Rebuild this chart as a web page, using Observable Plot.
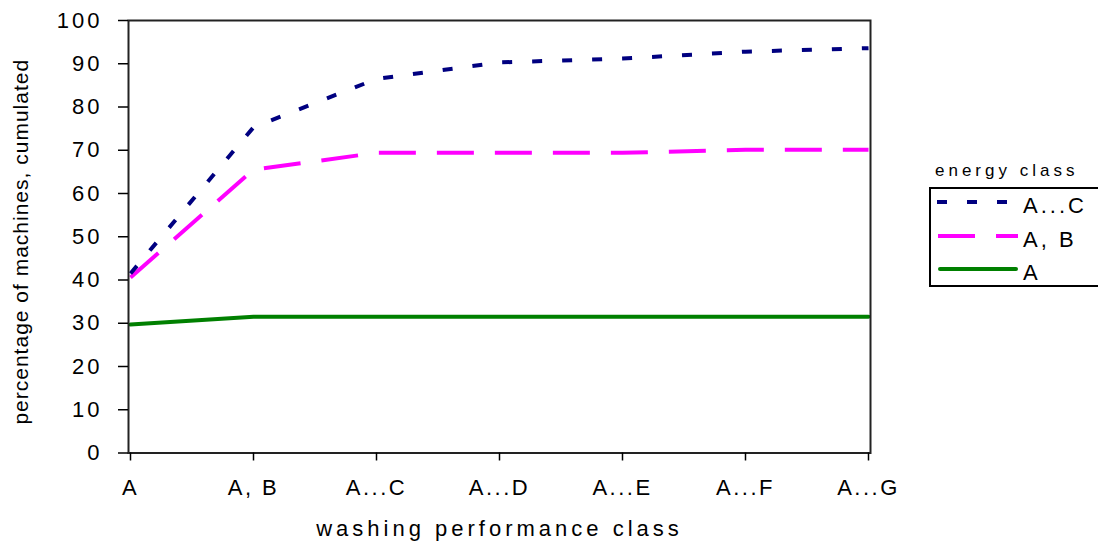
<!DOCTYPE html>
<html><head><meta charset="utf-8">
<script src="https://cdn.jsdelivr.net/npm/d3@7"></script>
<script src="https://cdn.jsdelivr.net/npm/@observablehq/plot@0.6"></script>
<style>
html,body{margin:0;padding:0;background:#fff;overflow:hidden}
#wrap{position:relative;width:1098px;height:543px;overflow:hidden}
#legend{position:absolute;left:900px;top:150px}
svg text{font-family:"Liberation Sans",Arial,sans-serif}
[aria-label="x-axis tick label"] text{letter-spacing:2.5px}
[aria-label="y-axis tick label"] text{letter-spacing:3px}
</style></head><body><div id="wrap"></div>
<script>
// ---- data ----
const categories = ["A", "A, B", "A...C", "A...D", "A...E", "A...F", "A...G"];
const seriesNames = ["A...C", "A, B", "A"];
const acValues = [41.5, 75.3, 86.5, 90.3, 91.2, 92.8, 93.6];
const abValues = [40.6, 65.5, 69.4, 69.4, 69.4, 70.1, 70.1];
const aValues  = [29.7, 31.5, 31.5, 31.5, 31.5, 31.5, 31.5];
const yTicks = [0, 10, 20, 30, 40, 50, 60, 70, 80, 90, 100];
const xLabel = "washing performance class";
const yLabel = "percentage of machines, cumulated";
const legendTitle = "energy class";

// ---- styles ----
const seriesStyle = {
  "A...C": {stroke: "#000080", dash: "10,20", width: 4},
  "A, B":  {stroke: "#FF00FF", dash: "37,21", width: 4},
  "A":     {stroke: "#008000", dash: null,    width: 4}
};
const seriesValues = {"A...C": acValues, "A, B": abValues, "A": aValues};

const rows = [];
for (const s of seriesNames) {
  seriesValues[s].forEach((v, i) => rows.push({category: categories[i], value: v, series: s}));
}

const lineMarks = ["A", "A, B", "A...C"].map(s => Plot.line(rows.filter(r => r.series === s), {
  x: "category", y: "value",
  stroke: seriesStyle[s].stroke,
  strokeWidth: seriesStyle[s].width,
  strokeDasharray: seriesStyle[s].dash,
  strokeLinecap: s === "A" ? "round" : "butt",
  strokeLinejoin: "miter"
}));

const chart = Plot.plot({
  width: 1098, height: 543,
  marginLeft: 128, marginRight: 228, marginTop: 20, marginBottom: 90.5,
  x: {type: "point", domain: categories, padding: 0},
  y: {domain: [0, 100]},
  style: {fontFamily: "Liberation Sans, Arial, sans-serif", background: "white", color: "black"},
  marks: [
    ...lineMarks,
    Plot.frame({stroke: "#222", strokeWidth: 2}),
    Plot.axisY({ticks: yTicks, tickSize: 10, tickPadding: 16, fontSize: 22, strokeWidth: 1.5, label: null}),
    Plot.axisX({tickSize: 8, tickPadding: 18, fontSize: 22, strokeWidth: 1.5, label: null}),
    Plot.text([yLabel], {text: d => d, frameAnchor: "left", textAnchor: "middle", rotate: -90, dx: -107, dy: 5, fontSize: 21, lineAnchor: "middle"}),
    Plot.text([xLabel], {text: d => d, frameAnchor: "bottom", dy: 76, fontSize: 22, lineAnchor: "middle"})
  ]
});
d3.select(chart).selectAll("text").filter(function(){ return this.textContent === xLabel; }).style("letter-spacing", "4px");
d3.select(chart).selectAll("text").filter(function(){ return this.textContent === yLabel; }).style("letter-spacing", "1px");
document.getElementById("wrap").appendChild(chart);

// ---- legend (outside the plot SVG) ----
const lg = d3.select("#wrap").append("svg").attr("id", "legend").attr("width", 198).attr("height", 150);
lg.append("text").attr("x", 35).attr("y", 26).attr("font-size", 17).style("letter-spacing", "4px").text(legendTitle);
lg.append("rect").attr("x", 30).attr("y", 38).attr("width", 200).attr("height", 98)
  .attr("fill", "white").attr("stroke", "black").attr("stroke-width", 2);
const legendRows = [
  {name: "A...C", y: 52, x1: 37, x2: 110, ty: 62.5},
  {name: "A, B", y: 86, x1: 38, x2: 118, ty: 97},
  {name: "A", y: 119, x1: 40, x2: 116, ty: 130}
];
for (const r of legendRows) {
  const st = seriesStyle[r.name];
  lg.append("line").attr("x1", r.x1).attr("x2", r.x2).attr("y1", r.y).attr("y2", r.y)
    .attr("stroke", st.stroke).attr("stroke-width", st.width)
    .attr("stroke-dasharray", st.dash)
    .attr("stroke-linecap", r.name === "A" ? "round" : "butt");
  lg.append("text").attr("x", 123).attr("y", r.ty).attr("font-size", 22)
    .style("letter-spacing", "3px").text(r.name);
}
</script></body></html>
